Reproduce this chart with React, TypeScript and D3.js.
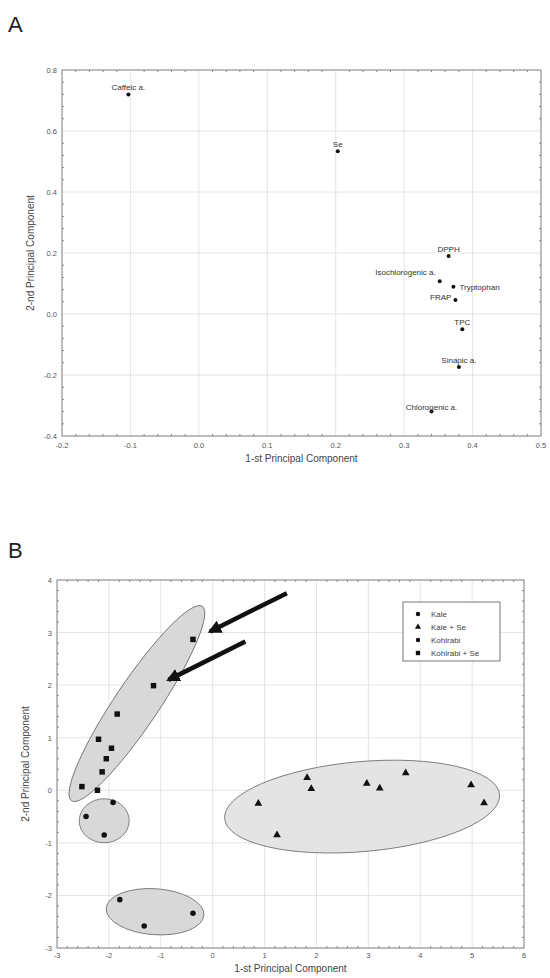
import React from "react";
import * as d3 from "d3";

const loadNames = ["Caffeic a.", "Se", "DPPH", "Isochlorogenic a.", "Tryptophan", "FRAP", "TPC", "Sinapic a.", "Chlorogenic a."];
const loadX = [-0.103, 0.203, 0.365, 0.352, 0.372, 0.375, 0.385, 0.38, 0.34];
const loadY = [0.72, 0.534, 0.19, 0.107, 0.089, 0.046, -0.05, -0.174, -0.32];
const labelPos = ["top", "top", "top", "topleft", "right", "left", "top", "top", "top"];
const aTicksX = [-0.2, -0.1, 0.0, 0.1, 0.2, 0.3, 0.4, 0.5];
const aTicksY = [-0.4, -0.2, 0.0, 0.2, 0.4, 0.6, 0.8];

const groups = ["Kale", "Kale + Se", "Kohlrabi", "Kohlrabi + Se"];
const kohlSeX = [-0.38, -1.14, -1.84, -2.2, -1.95, -2.05, -2.13, -2.52, -2.22];
const kohlSeY = [2.87, 1.99, 1.45, 0.97, 0.8, 0.6, 0.35, 0.07, 0.0];
const kohlX = [-1.92, -2.44, -2.09];
const kohlY = [-0.23, -0.5, -0.85];
const kaleX = [-1.79, -1.32, -0.38];
const kaleY = [-2.08, -2.58, -2.34];
const kaleSeX = [0.88, 1.24, 1.82, 1.9, 2.97, 3.22, 3.72, 4.98, 5.23];
const kaleSeY = [-0.25, -0.85, 0.24, 0.03, 0.13, 0.04, 0.33, 0.1, -0.24];
const bTicksX = [-3, -2, -1, 0, 1, 2, 3, 4, 5, 6];
const bTicksY = [-3, -2, -1, 0, 1, 2, 3, 4];

const FONT = "Liberation Sans, Arial, sans-serif";

function Frame({ x, y, xt, yt, fmt, xl, yl, tOff, lOff }: any) {
  const [x0, x1] = x.range();
  const [y0, y1] = y.range();
  const minorX: number[] = [];
  for (let i = 0; i < xt.length - 1; i++) for (let k = 1; k < 5; k++) minorX.push(xt[i] + ((xt[i + 1] - xt[i]) * k) / 5);
  const minorY: number[] = [];
  for (let i = 0; i < yt.length - 1; i++) for (let k = 1; k < 5; k++) minorY.push(yt[i] + ((yt[i + 1] - yt[i]) * k) / 5);
  return (
    <g fontFamily={FONT}>
      {xt.map((t: number) => <line key={"gx" + t} x1={x(t)} x2={x(t)} y1={y0} y2={y1} stroke="#ddd" strokeWidth={0.8} />)}
      {yt.map((t: number) => <line key={"gy" + t} x1={x0} x2={x1} y1={y(t)} y2={y(t)} stroke="#ddd" strokeWidth={0.8} />)}
      <rect x={x0} y={y1} width={x1 - x0} height={y0 - y1} fill="none" stroke="#888" strokeWidth={1} />
      {minorX.map((t, i) => <g key={"mx" + i}><line x1={x(t)} x2={x(t)} y1={y0} y2={y0 - 2} stroke="#888" /><line x1={x(t)} x2={x(t)} y1={y1} y2={y1 + 2} stroke="#888" /></g>)}
      {minorY.map((t, i) => <g key={"my" + i}><line x1={x0} x2={x0 + 2} y1={y(t)} y2={y(t)} stroke="#888" /><line x1={x1} x2={x1 - 2} y1={y(t)} y2={y(t)} stroke="#888" /></g>)}
      {xt.map((t: number) => <text key={"tx" + t} x={x(t)} y={y0 + tOff} fontSize={7.5} fill="#555" textAnchor="middle">{fmt(t)}</text>)}
      {yt.map((t: number) => <text key={"ty" + t} x={x0 - 5} y={y(t) + 3} fontSize={7.5} fill="#555" textAnchor="end">{fmt(t)}</text>)}
      <text x={(x0 + x1) / 2} y={y0 + lOff} fontSize={10} fill="#444" textAnchor="middle">{xl}</text>
      <text transform={`translate(${x0 - 28},${(y0 + y1) / 2}) rotate(-90)`} fontSize={10} fill="#444" textAnchor="middle">{yl}</text>
    </g>
  );
}

export default function App() {
  const xA = d3.scaleLinear().domain([-0.2, 0.5]).range([62, 541]);
  const yA = d3.scaleLinear().domain([-0.4, 0.8]).range([436, 70]);
  const xB = d3.scaleLinear().domain([-3, 6]).range([57, 524]);
  const yB = d3.scaleLinear().domain([-3, 4]).range([948, 580]);
  const fA = (t: number) => t.toFixed(1);
  const fB = (t: number) => String(t);
  const tri = d3.symbol().type(d3.symbolTriangle).size(26)() as string;
  const sq = d3.symbol().type(d3.symbolSquare).size(30)() as string;
  const circ = d3.symbol().type(d3.symbolCircle).size(24)() as string;

  const ex1 = xB(-0.2), ey1 = yB(3.5), ex2 = xB(-2.72), ey2 = yB(-0.2);
  const ucx = (ex1 + ex2) / 2, ucy = (ey1 + ey2) / 2;
  const ulen = Math.hypot(ex1 - ex2, ey1 - ey2) / 2;
  const uang = (Math.atan2(ey1 - ey2, ex1 - ex2) * 180) / Math.PI;

  const arrows = [[1.43, 3.75, -0.05, 3.02], [0.63, 2.83, -0.85, 2.1]];

  return (
    <svg width={550} height={978} style={{ position: "absolute", left: 0, top: 0 }} fontFamily={FONT}>
      <defs>
        <marker id="ah" viewBox="0 0 10 10" refX={8} refY={5} markerWidth={3} markerHeight={3} orient="auto">
          <path d="M0,0L10,5L0,10z" fill="#111" />
        </marker>
      </defs>
      <rect width={550} height={978} fill="#fff" />
      <text x={8} y={32} fontSize={22} fill="#222">A</text>
      <Frame x={xA} y={yA} xt={aTicksX} yt={aTicksY} fmt={fA} xl="1-st Principal Component" yl="2-nd Principal Component" tOff={12} lOff={26} />
      {loadNames.map((n, i) => {
        const px = xA(loadX[i]), py = yA(loadY[i]);
        const p = labelPos[i];
        let tx = px, ty = py - 4, anc: any = "middle";
        if (p === "right") { tx = px + 6; ty = py + 3; anc = "start"; }
        if (p === "left") { tx = px - 4; ty = py; anc = "end"; }
        if (p === "topleft") { tx = px - 4; ty = py - 6; anc = "end"; }
        if (p === "top" && i === 8) ty = py - 2;
        return (
          <g key={n}>
            <circle cx={px} cy={py} r={2} fill="#111" />
            <text x={tx} y={ty} fontSize={8} fill="#333" textAnchor={anc}>{n}</text>
          </g>
        );
      })}

      <text x={8} y={558} fontSize={22} fill="#222">B</text>
      <Frame x={xB} y={yB} xt={bTicksX} yt={bTicksY} fmt={fB} xl="1-st Principal Component" yl="2-nd Principal Component" tOff={10} lOff={24} />
      <g fill="#d8d8d8" stroke="#666" strokeWidth={0.8}>
        <ellipse cx={ucx} cy={ucy} rx={ulen} ry={22} transform={`rotate(${uang},${ucx},${ucy})`} />
        <ellipse cx={xB(-2.09)} cy={yB(-0.58)} rx={25} ry={22} />
        <ellipse cx={xB(-1.11)} cy={yB(-2.31)} rx={49} ry={23} transform={`rotate(4,${xB(-1.11)},${yB(-2.31)})`} />
        <ellipse cx={xB(2.88)} cy={yB(-0.31)} rx={138} ry={45} fill="#e4e4e4" transform={`rotate(-5,${xB(2.88)},${yB(-0.31)})`} />
      </g>
      {kohlSeX.map((v, i) => <path key={"ks" + i} d={sq} transform={`translate(${xB(v)},${yB(kohlSeY[i])})`} fill="#111" />)}
      {kohlX.map((v, i) => <path key={"k" + i} d={circ} transform={`translate(${xB(v)},${yB(kohlY[i])})`} fill="#111" />)}
      {kaleX.map((v, i) => <path key={"ka" + i} d={circ} transform={`translate(${xB(v)},${yB(kaleY[i])})`} fill="#111" />)}
      {kaleSeX.map((v, i) => <path key={"kse" + i} d={tri} transform={`translate(${xB(v)},${yB(kaleSeY[i])})`} fill="#111" />)}
      {arrows.map((a, i) => (
        <line key={"ar" + i} x1={xB(a[0])} y1={yB(a[1])} x2={xB(a[2])} y2={yB(a[3])} stroke="#111" strokeWidth={4.5} markerEnd="url(#ah)" />
      ))}
      <g>
        <rect x={403} y={602} width={97} height={59} fill="#fff" stroke="#555" strokeWidth={0.8} />
        {groups.map((g, i) => {
          const yy = 614 + i * 13;
          const d = i === 1 ? tri : i === 3 ? sq : circ;
          return (
            <g key={g}>
              <path d={d} transform={`translate(418,${yy}) scale(0.8)`} fill="#111" />
              <text x={431} y={yy + 3} fontSize={8} fill="#444">{g}</text>
            </g>
          );
        })}
      </g>
    </svg>
  );
}
